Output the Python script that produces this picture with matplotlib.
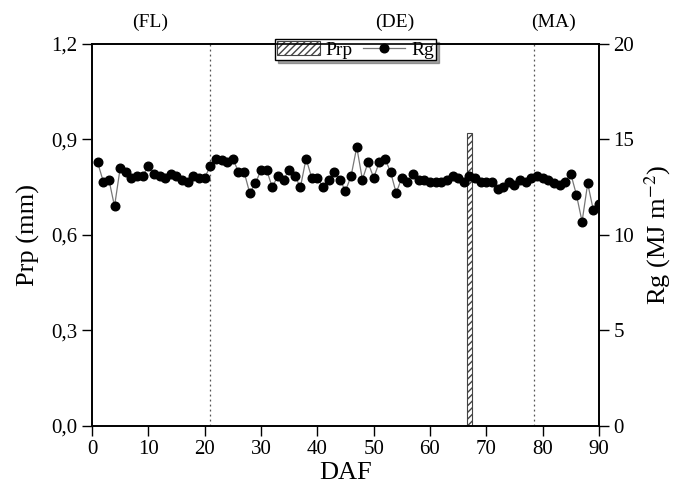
import numpy as np
import matplotlib
matplotlib.use("Agg")
import matplotlib.pyplot as plt
from matplotlib.ticker import FuncFormatter

plt.rcParams['font.family'] = ['Liberation Serif', 'DejaVu Serif']
plt.rcParams['mathtext.fontset'] = 'stix'
plt.rcParams['hatch.color'] = '#555555'

# dias apos floracao
daf = list(range(1, 91))
# radiacao global (MJ m-2)
rg = [13.8, 12.8, 12.9, 11.5, 13.5, 13.3, 13.0, 13.1, 13.1, 13.6,
      13.2, 13.1, 13.0, 13.2, 13.1, 12.9, 12.8, 13.1, 13.0, 13.0,
      13.6, 14.0, 13.9, 13.8, 14.0, 13.3, 13.3, 12.2, 12.7, 13.4,
      13.4, 12.5, 13.1, 12.9, 13.4, 13.1, 12.5, 14.0, 13.0, 13.0,
      12.5, 12.9, 13.3, 12.9, 12.3, 13.1, 14.6, 12.9, 13.8, 13.0,
      13.8, 14.0, 13.3, 12.2, 13.0, 12.8, 13.2, 12.9, 12.9, 12.8,
      12.8, 12.8, 12.9, 13.1, 13.0, 12.8, 13.1, 13.0, 12.8, 12.8,
      12.8, 12.4, 12.5, 12.8, 12.6, 12.9, 12.8, 13.0, 13.1, 13.0,
      12.9, 12.7, 12.6, 12.8, 13.2, 12.1, 10.7, 12.7, 11.3, 11.6]
# precipitacao (mm)
prp_day = [67]
prp = [0.92]

fases = ["(FL)", "(DE)", "(MA)"]
fases_x = [10.3, 53.8, 82.0]
limites = [21, 78.5]

fig = plt.figure(figsize=(6.73, 4.93), dpi=100)
ax = fig.add_axes([0.1367, 0.1359, 0.7533, 0.7749])
ax2 = ax.twinx()

b = ax.bar(prp_day, prp, width=0.9, color="white", edgecolor="#444444",
           hatch="/////", linewidth=0.8, label="Prp", zorder=2)
l, = ax2.plot(daf, rg, color="#777777", lw=0.9, marker="o", ms=6.2,
              mfc="black", mec="black", label="Rg", zorder=3)

for x in limites:
    ax.axvline(x, color="#555555", lw=0.9, ls=(0, (1.5, 2.5)), zorder=1)

ax.set_xlim(0, 90)
ax.set_ylim(0, 1.2)
ax2.set_ylim(0, 20)
ax.set_xticks(np.arange(0, 91, 10))
ax.set_yticks([0, 0.3, 0.6, 0.9, 1.2])
ax2.set_yticks([0, 5, 10, 15, 20])
ax.yaxis.set_major_formatter(FuncFormatter(lambda v, p: f"{v:.1f}".replace(".", ",")))

for a in (ax, ax2):
    a.tick_params(direction="out", length=7, width=1, labelsize=15)
    for s in a.spines.values():
        s.set_linewidth(1.2)
ax.tick_params(axis="x", pad=3)

ax.set_xlabel("DAF", fontsize=19, labelpad=2)
ax.set_ylabel("Prp (mm)", fontsize=19, labelpad=8)
ax2.set_ylabel("Rg (MJ m$^{-2}$)", fontsize=19, labelpad=6)

for t, x in zip(fases, fases_x):
    ax.text(x, 1.24, t, ha="center", va="bottom", fontsize=14)

leg = ax.legend([b, l], ["Prp", "Rg"], ncol=2, loc="center",
                bbox_to_anchor=(0.52, 0.985), bbox_transform=ax.transAxes,
                fontsize=14, frameon=True, fancybox=False, shadow=True,
                edgecolor="black", borderpad=0.1, handlelength=2.2,
                handletextpad=0.3, columnspacing=0.5, framealpha=1,
                borderaxespad=0)
leg.get_frame().set_linewidth(1.0)
leg.set_zorder(10)

fig.savefig("out.png", dpi=100)
